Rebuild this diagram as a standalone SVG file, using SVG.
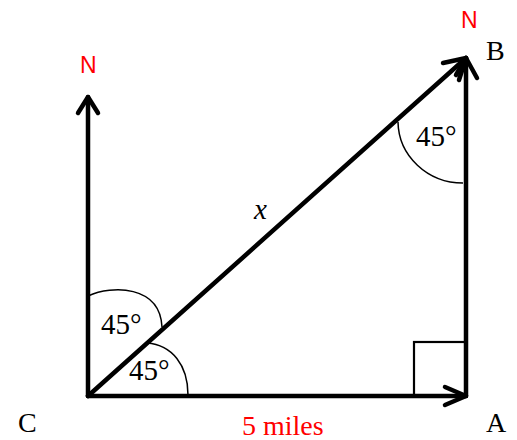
<svg xmlns="http://www.w3.org/2000/svg" width="517" height="440" viewBox="0 0 517 440">
<style>
.main{stroke:#000;stroke-width:4.5;fill:none;stroke-linecap:round;stroke-linejoin:round}
.thin{stroke:#000;stroke-width:1.5;fill:none}
.sq{stroke:#000;stroke-width:2.2;fill:none}
.lbl{font-family:"Liberation Serif",serif;font-size:28px;fill:#000}
.ang{font-family:"Liberation Serif",serif;font-size:29px;fill:#000}
.red{font-family:"Liberation Sans",sans-serif;font-size:23px;fill:#ff0000}
.redser{font-family:"Liberation Serif",serif;font-size:28px;fill:#ff0000}
</style>
<rect width="517" height="440" fill="#fff"/>
<g id="connectors">
<path class="main" d="M88 396 L88 97"/>
<path class="main" d="M78 113 L88 97 L98 113"/>
<path class="main" d="M88 396 L466 396"/>
<path class="main" d="M445 387 L466 396 L445 405"/>
<path class="main" d="M466 396 L466 58"/>
<path class="main" d="M456 75 L466 58 L477 78"/>
<path class="main" d="M88 396 L466 58"/>
<path class="main" d="M443 63 L466 58 L459 80"/>
</g>
<g id="right-angle"><rect class="sq" x="414" y="342" width="52" height="54"/></g>
<g id="angle-B">
<path class="thin" d="M398 122 A65 62 0 0 0 463 183"/>
<text class="ang" x="416" y="146">45°</text>
</g>
<g id="angle-C-upper">
<path class="thin" d="M88 296 C112 285 160 285 162 327"/>
<text class="ang" x="101" y="334">45°</text>
</g>
<g id="angle-C-lower">
<path class="thin" d="M147 343 C172 345 188 365 188 395"/>
<text class="ang" x="129" y="380">45°</text>
</g>
<g id="label-x"><text class="ang" x="254" y="219" font-style="italic" font-size="26">x</text></g>
<g id="label-N-C"><text class="red" x="80" y="73">N</text></g>
<g id="label-N-B"><text class="red" x="461" y="28">N</text></g>
<g id="label-B"><text class="lbl" x="486" y="60">B</text></g>
<g id="label-C"><text class="lbl" x="18" y="432">C</text></g>
<g id="label-A"><text class="lbl" x="486" y="432">A</text></g>
<g id="label-dist"><text class="redser" x="242" y="435">5 miles</text></g>
</svg>
